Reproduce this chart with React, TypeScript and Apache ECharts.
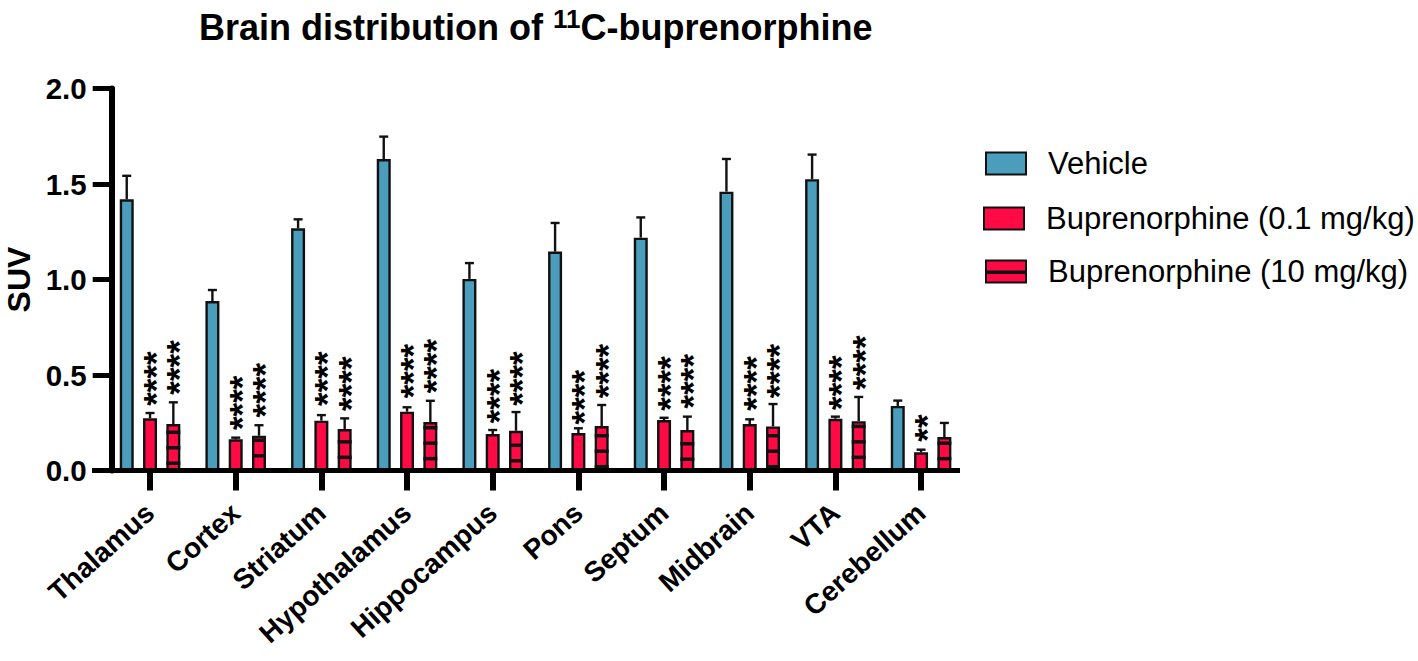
import * as echarts from "echarts";
import { useEffect, useRef } from "react";

const regions = ["Thalamus", "Cortex", "Striatum", "Hypothalamus", "Hippocampus", "Pons", "Septum", "Midbrain", "VTA", "Cerebellum"];

const vehicle = [1.42, 0.887, 1.268, 1.631, 1.003, 1.146, 1.219, 1.46, 1.525, 0.338];
const vehicleErr = [1.543, 0.945, 1.315, 1.748, 1.086, 1.296, 1.325, 1.631, 1.654, 0.366];

const bup01 = [0.273, 0.163, 0.261, 0.308, 0.191, 0.196, 0.264, 0.243, 0.271, 0.095];
const bup01Err = [0.301, 0.172, 0.29, 0.331, 0.212, 0.221, 0.276, 0.268, 0.282, 0.109];

const bup10 = [0.243, 0.182, 0.217, 0.254, 0.208, 0.233, 0.212, 0.231, 0.258, 0.175];
const bup10Err = [0.357, 0.237, 0.273, 0.365, 0.306, 0.343, 0.282, 0.348, 0.385, 0.249];

// lowest stripe of the hatched bars, and the distance between stripes
const stripeBase = [0.038, 0.077, 0.069, 0.062, 0.051, 0.02, 0.059, 0.02, 0.069, 0.062];
const stripeStep = 0.081;

// height of the lowest asterisk above each bar
const stars01 = [0.374, 0.247, 0.373, 0.413, 0.282, 0.276, 0.348, 0.348, 0.352, 0.186];
const stars01Text = ["****", "****", "****", "****", "****", "****", "****", "****", "****", "**"];
const stars10 = [0.432, 0.313, 0.347, 0.439, 0.374, 0.413, 0.36, 0.413, 0.457, null];
const stars10Text = ["****", "****", "****", "****", "****", "****", "****", "****", "****", ""];

const BLUE = "#4a9dbb";
const RED = "#ff0a45";
const INK = "#111";
const FONT = "Liberation Sans";
const BAR_STEP = 23.3;
const BAR_WIDTH = 14;

const errorSeries = (values: number[], tops: number[], offset: number) => ({
  type: "custom",
  z: 3,
  silent: true,
  data: values.map((v, i) => [i, v, tops[i]]),
  renderItem: (_: any, api: any) => {
    const bottom = api.coord([api.value(0), api.value(1)]);
    const top = api.coord([api.value(0), api.value(2)]);
    const x = bottom[0] + offset;
    const style = { stroke: INK, lineWidth: 2.4, fill: "none" };
    return {
      type: "group",
      children: [
        { type: "line", shape: { x1: x, y1: bottom[1], x2: x, y2: top[1] }, style },
        { type: "line", shape: { x1: x - 4.5, y1: top[1], x2: x + 4.5, y2: top[1] }, style },
      ],
    };
  },
});

const stripeSeries = {
  type: "custom",
  z: 3,
  silent: true,
  data: bup10.map((v, i) => [i, v, stripeBase[i]]),
  renderItem: (_: any, api: any) => {
    const children: any[] = [];
    for (let s = api.value(2); s < api.value(1) - 0.01; s += stripeStep) {
      const p = api.coord([api.value(0), s]);
      children.push({
        type: "rect",
        shape: { x: p[0] + BAR_STEP - BAR_WIDTH / 2, y: p[1] - 1.75, width: BAR_WIDTH, height: 3.5 },
        style: { fill: INK },
      });
    }
    return { type: "group", children };
  },
};

const starSeries = (lows: (number | null)[], labels: string[], offset: number) => ({
  type: "custom",
  z: 4,
  silent: true,
  data: lows.map((v, i) => [i, v]).filter((d) => d[1] !== null),
  renderItem: (params: any, api: any) => {
    const p = api.coord([api.value(0), api.value(1)]);
    return {
      type: "text",
      x: p[0] + offset + 5.5,
      y: p[1] + 6.7,
      rotation: Math.PI / 2,
      style: {
        text: labels[api.value(0)],
        fontFamily: FONT,
        fontWeight: "bold",
        fontSize: 35,
        fill: "#000",
        textAlign: "left",
        textVerticalAlign: "middle",
      },
    };
  },
});

const legendBase = {
  orient: "horizontal",
  icon: "rect",
  itemWidth: 40,
  itemHeight: 22,
  itemGap: 0,
  textStyle: { fontFamily: FONT, fontSize: 31, color: "#000", padding: [0, 0, 0, 17] },
  selectedMode: false,
  padding: 0,
};

const App = () => {
  const chartRef = useRef<HTMLDivElement | null>(null);

  useEffect(() => {
    const chart = echarts.init(chartRef.current, null, { renderer: "svg" });
    chart.setOption({
      animation: false,
      backgroundColor: "#fff",
      textStyle: { fontFamily: FONT },
      title: {
        left: 199,
        top: 6,
        padding: 0,
        text: "{t|Brain distribution of }{s|11}{t|C-buprenorphine}",
        textStyle: {
          rich: {
            t: { fontFamily: FONT, fontSize: 36, lineHeight: 42, fontWeight: "bold", color: "#000" },
            s: { fontFamily: FONT, fontSize: 26, fontWeight: "bold", color: "#000", verticalAlign: "top" },
          },
        },
      },
      legend: [
        { ...legendBase, left: 985, top: 148, data: ["Vehicle"] },
        { ...legendBase, left: 983, top: 203, data: ["Buprenorphine (0.1 mg/kg)"] },
        { ...legendBase, left: 985, top: 256, data: ["Buprenorphine (10 mg/kg)"] },
      ],
      grid: { left: 107.2, top: 88.5, width: 856.7, height: 382, outerBoundsMode: "none" },
      xAxis: {
        type: "category",
        data: regions,
        axisLine: { show: false },
        axisTick: { show: true, alignWithLabel: true, length: 20, lineStyle: { color: "#000", width: 6 } },
        axisLabel: {
          interval: 0,
          rotate: 42,
          margin: 38,
          color: "#000",
          fontFamily: FONT,
          fontWeight: "bold",
          fontSize: 28,
        },
      },
      yAxis: {
        type: "value",
        min: 0,
        max: 2,
        interval: 0.5,
        offset: -4.5,
        name: "SUV",
        nameLocation: "middle",
        nameGap: 74,
        nameTextStyle: { color: "#000", fontFamily: FONT, fontWeight: "bold", fontSize: 32 },
        splitLine: { show: false },
        axisLine: { show: true, lineStyle: { color: "#000", width: 6 } },
        axisTick: { show: true, length: 19, lineStyle: { color: "#000", width: 5 } },
        axisLabel: {
          margin: 25,
          color: "#000",
          fontFamily: FONT,
          fontWeight: "bold",
          fontSize: 29.5,
          formatter: (v: number) => v.toFixed(1),
        },
      },
      series: [
        {
          name: "Vehicle",
          type: "bar",
          data: vehicle,
          barWidth: BAR_WIDTH,
          barGap: "66.4%",
          itemStyle: { color: BLUE, borderColor: INK, borderWidth: 2.4 },
        },
        {
          name: "Buprenorphine (0.1 mg/kg)",
          type: "bar",
          data: bup01,
          barWidth: BAR_WIDTH,
          itemStyle: { color: RED, borderColor: INK, borderWidth: 2.4 },
        },
        {
          name: "Buprenorphine (10 mg/kg)",
          type: "bar",
          data: bup10,
          barWidth: BAR_WIDTH,
          itemStyle: { color: RED, borderColor: INK, borderWidth: 2.4 },
        },
        stripeSeries,
        errorSeries(vehicle, vehicleErr, -BAR_STEP),
        errorSeries(bup01, bup01Err, 0),
        errorSeries(bup10, bup10Err, BAR_STEP),
        starSeries(stars01, stars01Text, 0),
        starSeries(stars10, stars10Text, BAR_STEP),
      ],
      graphic: [
        // the x axis line stops short of the last band, and starts at the y axis ticks
        { type: "rect", z: 10, shape: { x: 92, y: 468, width: 868, height: 5 }, style: { fill: "#000" } },
        // stripe of the hatched legend key
        { type: "rect", z: 10, shape: { x: 985, y: 270.5, width: 40, height: 3.5 }, style: { fill: INK } },
      ],
    });
    return () => chart.dispose();
  }, []);

  return <div ref={chartRef} style={{ position: "absolute", left: 0, top: 0, width: 1418, height: 661 }} />;
};

export default App;
